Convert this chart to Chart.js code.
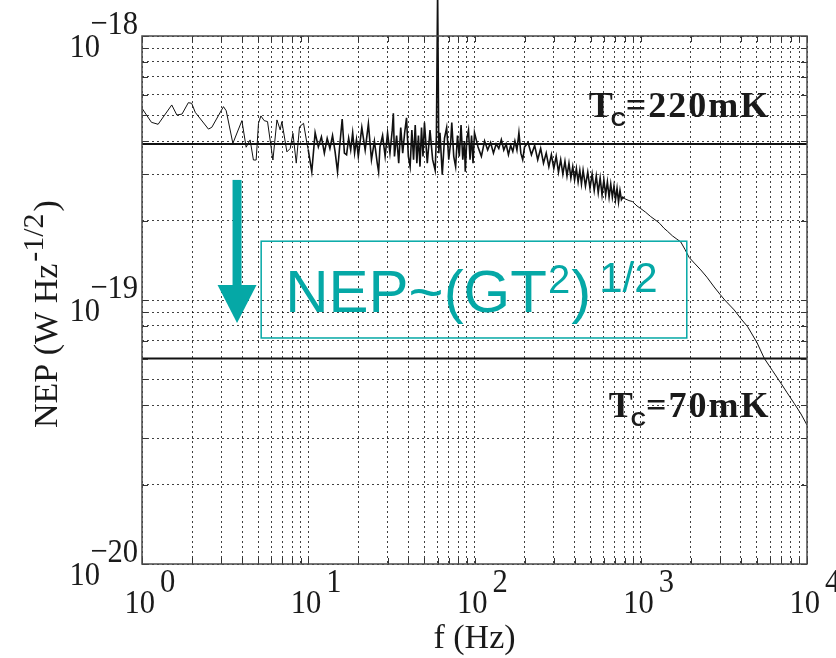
<!DOCTYPE html>
<html>
<head>
<meta charset="utf-8">
<script src="https://cdn.jsdelivr.net/npm/chart.js"></script>
<style>
  body { margin: 0; background: #fff; }
  canvas { display: block; }
</style>
</head>
<body>
<canvas id="grafico-nep" width="836" height="658"></canvas>
<script>
// espectro de ruido NEP medido (f em Hz, NEP em unidades de 1e-19 W/Hz^1/2)
const noiseFreq = [
  1, 1.14, 1.25, 1.51, 1.62, 1.74, 1.9, 1.99, 2.09, 2.51,
  2.63, 3.09, 3.21, 3.52, 3.99, 4.23, 4.47, 4.68, 4.86, 5.02,
  5.19, 5.43, 5.69, 6.13, 6.48, 6.78, 6.94, 7.44, 7.79, 8.09,
  8.47, 8.86, 9.37, 9.82,
  10, 10.5, 11, 11.5, 12, 12.5, 13, 13.5, 14, 14.5,
  15, 15.5, 16, 16.5, 17, 17.5, 18, 18.5, 19, 19.5,
  20, 21, 22, 23, 24, 25, 26, 26.5, 27, 28, 29, 30, 31, 32, 32.5, 33,
  34, 35, 36, 37, 38, 39, 40, 41, 42, 43, 44, 45, 46, 47, 48, 49, 50,
  52, 54, 56, 58, 59, 60, 61, 62, 64, 66, 68, 70, 72, 73,
  75, 77, 79, 81, 83, 85, 87, 88, 90, 92, 94, 96, 98, 100,
  105, 110, 115, 120, 125, 130, 135, 140, 145, 150,
  155, 160, 165, 170, 175, 180, 185, 190, 195, 200,
  210, 220, 230, 240, 250, 260, 270, 280, 290, 300,
  310, 320, 330, 340, 350, 360, 370, 380, 390, 400,
  410, 420, 430, 440, 450,
  465, 480, 495, 510, 525, 540, 555, 570, 585, 600,
  615, 630, 645, 660, 675, 690, 705, 720, 735, 750, 765, 780,
  800, 850, 891, 950, 1000, 1070, 1148, 1250, 1300, 1380,
  1450, 1550, 1650, 1740, 1850, 1954, 2100, 2296, 2500, 2765,
  3000, 3200, 3648, 4000, 4395, 5000, 5535, 6200, 6966, 7600,
  8375, 9200, 10000
];
const noiseNep = [
  5.32, 4.71, 4.63, 5.48, 5.02, 5.06, 5.59, 5.56, 5.14, 4.44,
  4.51, 5.40, 5.21, 3.92, 4.78, 3.79, 4.04, 3.39, 3.39, 4.67,
  4.98, 4.78, 4.74, 3.39, 4.81, 4.41, 4.74, 3.64, 3.75, 4.28,
  3.30, 4.53, 4.67, 3.92,
  3.7, 3.06, 4.3, 3.8, 4.15, 3.6, 4.1, 3.75, 4.2, 3.65,
  3.06, 3.9, 4.85, 3.6, 3.55, 4.1, 3.7, 4.3, 3.6, 4.05,
  3.5, 4.5, 3.7, 4.65, 3.4, 4.0, 3.3, 3.06, 3.8, 4.2, 3.5, 4.3, 3.6, 4.4, 5.1, 3.5,
  4.2, 3.3, 4.5, 3.6, 4.3, 4.9, 3.5, 3.2, 4.4, 3.4, 4.6, 3.3, 4.2, 3.2, 4.5, 3.5, 4.7,
  3.3, 4.4, 3.4, 3.1, 4.2, 15, 3.6, 4.3, 2.98, 4.1, 4.5, 3.4, 4.0, 4.7,
  3.5, 3.2, 4.2, 3.5, 4.6, 3.4, 4.0, 3.06, 4.1, 4.4, 3.4, 4.2, 3.3, 4.3,
  3.8, 3.5, 4.0, 3.7, 3.95, 3.6, 3.9, 3.75, 4.05, 3.7,
  3.9, 3.55, 3.85, 3.65, 4.0, 3.7, 4.3, 3.6, 3.4, 3.8,
  3.95, 3.55, 3.85, 3.4, 3.75, 3.3, 3.6, 3.2, 3.55, 3.15,
  3.5, 3.05, 3.4, 3.0, 3.35, 2.95, 3.3, 2.9, 3.2, 2.85,
  3.15, 2.8, 3.1, 2.75, 3.1,
  2.7, 3.05, 2.65, 3.0, 2.6, 2.95, 2.55, 2.9, 2.5, 2.85,
  2.5, 2.8, 2.45, 2.75, 2.45, 2.7, 2.4, 2.65, 2.35, 2.6, 2.4, 2.45,
  2.42, 2.38, 2.36, 2.27, 2.22, 2.15, 2.07, 1.99, 1.95, 1.87,
  1.82, 1.75, 1.70, 1.66, 1.55, 1.45, 1.38, 1.30, 1.22, 1.12,
  1.05, 1.00, 0.917, 0.85, 0.792, 0.69, 0.601, 0.54, 0.484, 0.445,
  0.406, 0.37, 0.336
];
// niveis de NEP para Tc=220mK e Tc=70mK (1e-19 W/Hz^1/2)
const tcLevels = [3.9, 0.60];
const tcLabels = ['220mK', '70mK'];
// expoentes dos rotulos dos eixos
const xExponents = ['0', '1', '2', '3', '4'];
const yExponents = ['\u221220', '\u221219', '\u221218'];
const UNIT = 1e-19;

// linhas de grade do log (1..9 em cada decada)
function logGrid(minExp, maxExp) {
  let out = [];
  for (let e = minExp; e < maxExp; e++) {
    for (let m = 1; m <= 9; m++) out.push({ value: m * Math.pow(10, e) });
  }
  out.push({ value: Math.pow(10, maxExp) });
  return out;
}

const TEAL = '#05a8a6';
const SERIF = '"Liberation Serif", "Times New Roman", serif';
const SANS = '"Liberation Sans", Arial, sans-serif';

// escreve texto com compressao horizontal
function squeezed(ctx, s, x, y, sx) {
  ctx.save();
  ctx.translate(x, y);
  ctx.scale(sx, 1);
  ctx.fillText(s, 0, 0);
  ctx.restore();
}

const overlay = {
  id: 'overlay',
  beforeDraw(chart) {
    const ctx = chart.ctx;
    ctx.save();
    ctx.fillStyle = '#fff';
    ctx.fillRect(0, 0, chart.width, chart.height);
    ctx.restore();
  },
  // recorta as curvas nas laterais da area do grafico (o pico de 60 Hz passa do topo)
  beforeDatasetsDraw(chart) {
    const { ctx, chartArea: a } = chart;
    ctx.save();
    ctx.beginPath();
    ctx.rect(a.left, 0, a.right - a.left, a.bottom);
    ctx.clip();
  },
  afterDatasetsDraw(chart) {
    chart.ctx.restore();
  },
  afterDraw(chart) {
    const { ctx, chartArea: a, scales: { x, y } } = chart;
    ctx.save();

    // marcas internas dos eixos
    ctx.strokeStyle = '#333';
    ctx.lineWidth = 1;
    ctx.beginPath();
    x.ticks.forEach(t => {
      const px = Math.round(x.getPixelForValue(t.value)) + 0.5;
      ctx.moveTo(px, a.bottom); ctx.lineTo(px, a.bottom - 6);
      ctx.moveTo(px, a.top); ctx.lineTo(px, a.top + 6);
    });
    y.ticks.forEach(t => {
      const py = Math.round(y.getPixelForValue(t.value)) + 0.5;
      ctx.moveTo(a.left, py); ctx.lineTo(a.left + 6, py);
      ctx.moveTo(a.right, py); ctx.lineTo(a.right - 6, py);
    });
    ctx.stroke();

    // moldura
    ctx.strokeStyle = '#4a4a4a';
    ctx.lineWidth = 1.5;
    ctx.strokeRect(a.left, a.top, a.right - a.left, a.bottom - a.top);

    // rotulos do eixo x: 10^n
    ctx.fillStyle = '#1a1a1a';
    ctx.textBaseline = 'alphabetic';
    ctx.font = '34px ' + SERIF;
    xExponents.forEach(e => {
      const px = x.getPixelForValue(Math.pow(10, Number(e)));
      const w = ctx.measureText('10').width * 0.9;
      squeezed(ctx, '10', px + 13 - w, a.bottom + 49, 0.9);
      squeezed(ctx, e, px + 18, a.bottom + 28, 0.9);
    });
    // rotulos do eixo y: 10^-n
    yExponents.forEach(e => {
      const py = y.getPixelForValue(Math.pow(10, Number(e.replace('\u2212', '-'))));
      const w = ctx.measureText('10').width * 0.9;
      squeezed(ctx, '10', a.left - 42 - w, py + 21, 0.9);
      const we = ctx.measureText(e).width * 0.9;
      squeezed(ctx, e, a.left - 4 - we, py - 2, 0.9);
    });

    // titulo eixo x
    ctx.font = '34px ' + SERIF;
    ctx.textAlign = 'center';
    ctx.fillText('f (Hz)', (a.left + a.right) / 2, a.bottom + 84);
    ctx.textAlign = 'left';

    // titulo eixo y (rotacionado)
    ctx.save();
    ctx.translate(57, 428);
    ctx.rotate(-Math.PI / 2);
    ctx.font = '34px ' + SERIF;
    let cx = 0;
    ctx.fillText('NEP (W Hz', 0, 0);
    cx += ctx.measureText('NEP (W Hz').width;
    ctx.font = '30px ' + SERIF;
    ctx.fillText('-1/2', cx + 2, -14);
    cx += ctx.measureText('-1/2').width + 4;
    ctx.font = '34px ' + SERIF;
    ctx.fillText(')', cx, 0);
    ctx.restore();

    // rotulos Tc
    const tcPos = [[486, 4.93], [642, 0.36]];
    tcLabels.forEach((lab, i) => {
      let px = x.getPixelForValue(tcPos[i][0]);
      const py = y.getPixelForValue(tcPos[i][1] * UNIT);
      ctx.font = 'bold 36px ' + SERIF;
      ctx.letterSpacing = '2px';
      ctx.fillText('T', px, py);
      px += ctx.measureText('T').width - 4;
      ctx.font = 'bold 21px ' + SANS;
      ctx.letterSpacing = '0px';
      ctx.fillText('C', px, py + 9);
      px += ctx.measureText('C').width;
      ctx.font = 'bold 36px ' + SERIF;
      ctx.letterSpacing = '2px';
      ctx.fillText('=' + lab, px, py);
      ctx.letterSpacing = '0px';
    });

    // seta teal
    const ax = x.getPixelForValue(3.73);
    const aTop = y.getPixelForValue(2.85 * UNIT);
    const aTip = y.getPixelForValue(0.818 * UNIT);
    ctx.fillStyle = TEAL;
    ctx.fillRect(ax - 4.5, aTop, 9, aTip - aTop - 36);
    ctx.beginPath();
    ctx.moveTo(ax - 19.5, aTip - 38);
    ctx.lineTo(ax + 19.5, aTip - 38);
    ctx.lineTo(ax, aTip);
    ctx.closePath();
    ctx.fill();

    // caixa com a formula
    const bx0 = x.getPixelForValue(5.21), bx1 = x.getPixelForValue(1892);
    const by0 = y.getPixelForValue(1.67 * UNIT), by1 = y.getPixelForValue(0.718 * UNIT);
    ctx.strokeStyle = TEAL;
    ctx.lineWidth = 1.5;
    ctx.strokeRect(bx0, by0, bx1 - bx0, by1 - by0);

    let tx = x.getPixelForValue(7.27);
    const tb = y.getPixelForValue(0.90 * UNIT);
    ctx.fillStyle = TEAL;
    ctx.font = '60px ' + SANS;
    ctx.fillText('NEP~(GT', tx, tb);
    tx += ctx.measureText('NEP~(GT').width;
    ctx.font = '40px ' + SANS;
    ctx.fillText('2', tx + 1, tb - 19);
    tx += ctx.measureText('2').width + 2;
    ctx.font = '60px ' + SANS;
    ctx.fillText(')', tx, tb);
    tx += ctx.measureText(')').width + 8;
    ctx.font = '42px ' + SANS;
    ctx.fillText('1/2', tx, tb - 20);

    ctx.restore();
  }
};

window.onload = function () {
  const ctx = document.getElementById('grafico-nep').getContext('2d');
  const noise = noiseFreq.map((f, i) => ({ x: f, y: noiseNep[i] * UNIT }));
  const tcSets = tcLevels.map(v => ({
    data: [{ x: 1, y: v * UNIT }, { x: 10000, y: v * UNIT }],
    borderColor: '#111',
    borderWidth: 2,
    pointRadius: 0
  }));
  window.graficoNep = new Chart(ctx, {
    type: 'line',
    data: {
      datasets: [{
        data: noise,
        borderColor: '#111',
        borderWidth: 1,
        pointRadius: 0,
        tension: 0,
        clip: false,
        // trecho ruidoso mais grosso, cauda fina
        segment: {
          borderWidth: c => (c.p0.parsed.x >= 10 && c.p1.parsed.x <= 800 ? 1.6 : 1)
        }
      }].concat(tcSets)
    },
    options: {
      responsive: false,
      animation: false,
      layout: { padding: { left: 142, top: 36, right: 29, bottom: 94 } },
      plugins: { legend: { display: false }, tooltip: { enabled: false } },
      scales: {
        x: {
          type: 'logarithmic', min: 1, max: 10000, bounds: 'data',
          afterBuildTicks: s => { s.ticks = logGrid(0, 4); },
          ticks: { display: false },
          border: { display: false, dash: [2, 3] },
          grid: { drawTicks: false, color: 'rgba(0,0,0,0.75)', lineWidth: 1 }
        },
        y: {
          type: 'logarithmic', min: 1e-20, max: 1e-18, bounds: 'data',
          afterBuildTicks: s => { s.ticks = logGrid(-20, -18); },
          ticks: { display: false },
          border: { display: false, dash: [2, 3] },
          grid: { drawTicks: false, color: 'rgba(0,0,0,0.75)', lineWidth: 1 }
        }
      }
    },
    plugins: [overlay]
  });
};
</script>
</body>
</html>
